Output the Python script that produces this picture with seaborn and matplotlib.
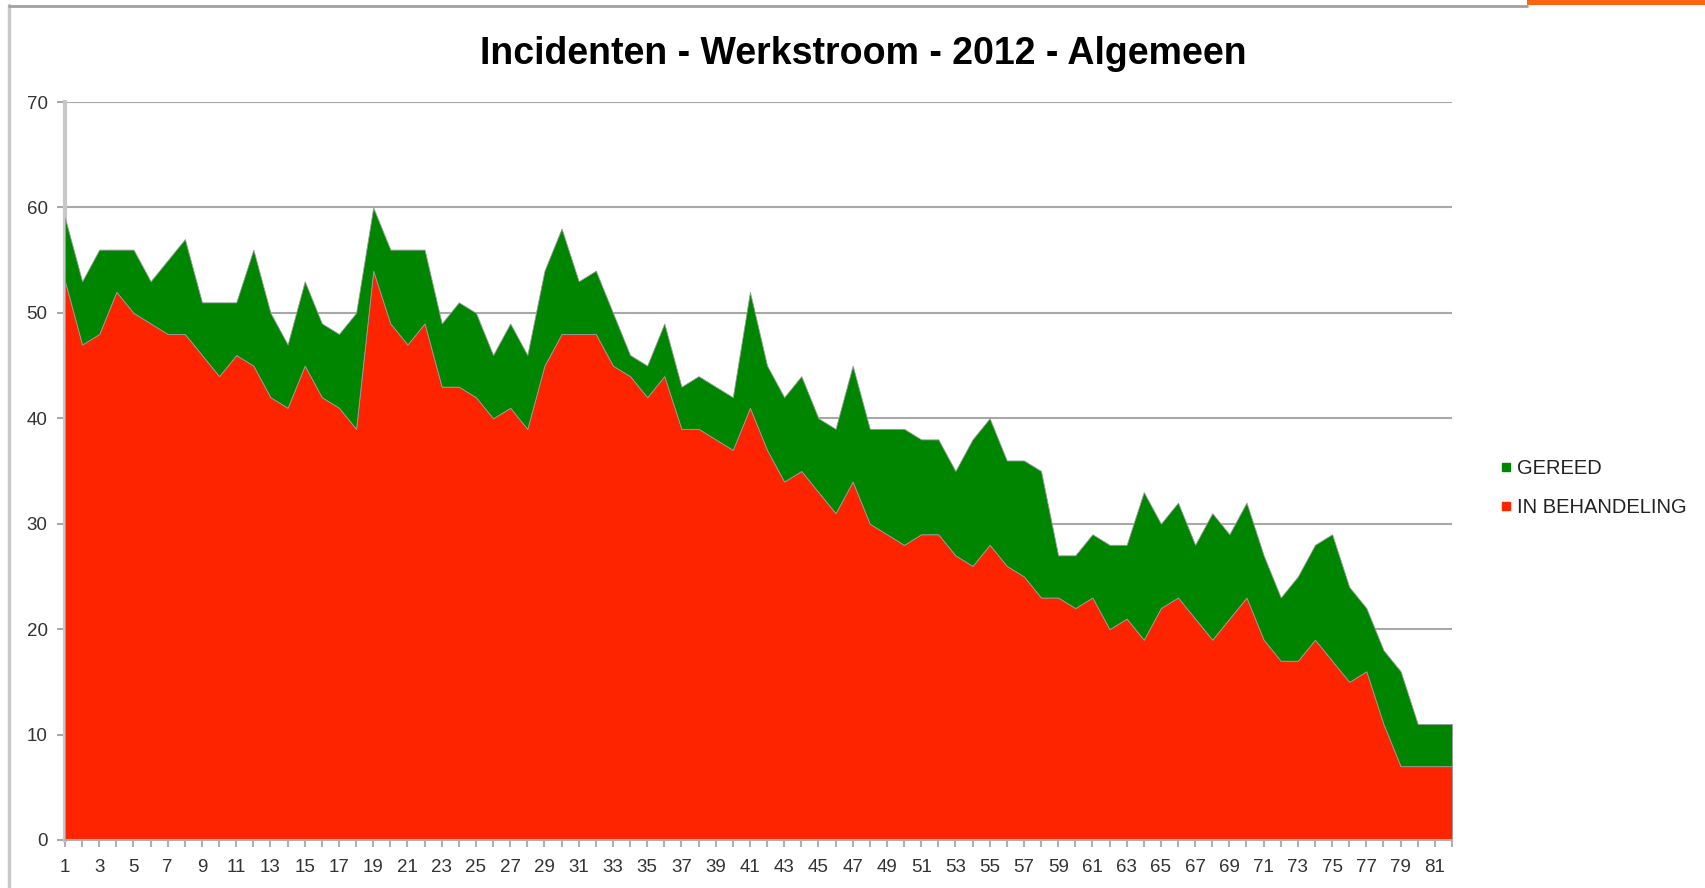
import numpy as np
import pandas as pd
import matplotlib.pyplot as plt
import seaborn as sns
from matplotlib.lines import Line2D
from matplotlib.patches import Rectangle

# data
days = list(range(1, 83))
totaal = [59, 53, 56, 56, 56, 53, 55, 57, 51, 51,
          51, 56, 50, 47, 53, 49, 48, 50, 60, 56,
          56, 56, 49, 51, 50, 46, 49, 46, 54, 58,
          53, 54, 50, 46, 45, 49, 43, 44, 43, 42,
          52, 45, 42, 44, 40, 39, 45, 39, 39, 39,
          38, 38, 35, 38, 40, 36, 36, 35, 27, 27,
          29, 28, 28, 33, 30, 32, 28, 31, 29, 32,
          27, 23, 25, 28, 29, 24, 22, 18, 16, 11,
          11, 11]
in_behandeling = [53, 47, 48, 52, 50, 49, 48, 48, 46, 44,
                  46, 45, 42, 41, 45, 42, 41, 39, 54, 49,
                  47, 49, 43, 43, 42, 40, 41, 39, 45, 48,
                  48, 48, 45, 44, 42, 44, 39, 39, 38, 37,
                  41, 37, 34, 35, 33, 31, 34, 30, 29, 28,
                  29, 29, 27, 26, 28, 26, 25, 23, 23, 22,
                  23, 20, 21, 19, 22, 23, 21, 19, 21, 23,
                  19, 17, 17, 19, 17, 15, 16, 11, 7, 7,
                  7, 7]
gereed = [t - r for t, r in zip(totaal, in_behandeling)]

colors = ['#ff2400', '#008500']

df = pd.DataFrame({'dag': days, 'IN BEHANDELING': in_behandeling, 'GEREED': gereed})

sns.set_theme(style='white')
plt.rcParams['font.family'] = ['Liberation Sans', 'DejaVu Sans']

fig = plt.figure(figsize=(17.06, 8.88), dpi=100)
ax = fig.add_axes([0.0381, 0.0541, 0.8130, 0.8310])

ax.stackplot(df['dag'], df['IN BEHANDELING'], df['GEREED'], colors=colors,
             linewidth=0.6, edgecolor='#9a9a9a', zorder=3)

ax.set_xlim(1, 82)
ax.set_ylim(0, 70)
ax.set_yticks(range(0, 71, 10))
ax.set_xticks(days, minor=True)
ax.set_xticks(days[::2])
ax.set_xticklabels([str(d) for d in days[::2]])
ax.grid(axis='y', color='#a8a8a8', linewidth=1.5, zorder=1)
ax.set_axisbelow(True)

for side in ['top', 'right']:
    ax.spines[side].set_visible(False)
ax.spines['left'].set_color('#c8c8c8')
ax.spines['left'].set_linewidth(3)
ax.spines['bottom'].set_color('#b0b0b0')
ax.spines['bottom'].set_linewidth(1.5)
ax.spines['bottom'].set_zorder(4)

ax.tick_params(axis='y', which='major', left=True, length=6, width=1.5, color='#a8a8a8',
               labelsize=13.5, labelcolor='#333333', pad=6.5)
ax.tick_params(axis='x', which='both', bottom=True, length=5, width=1.5, color='#b0b0b0',
               labelsize=13.5, labelcolor='#333333', pad=9)
ax.set_xlabel('')
ax.set_ylabel('')

fig.text(0.506, 0.939, 'Incidenten - Werkstroom - 2012 - Algemeen', ha='center', va='center',
         fontsize=27, fontweight='bold', color='black')

handles = [Line2D([], [], marker='s', linestyle='', color=colors[1], markersize=6),
           Line2D([], [], marker='s', linestyle='', color=colors[0], markersize=6)]
fig.legend(handles, ['GEREED', 'IN BEHANDELING'], loc='upper left',
           bbox_to_anchor=(0.8665, 0.503), frameon=False, fontsize=14.5,
           handletextpad=0.0, handlelength=1.0, labelspacing=0.95, labelcolor='#222222')

# page frame of the original screenshot
fig.add_artist(Line2D([0.0053, 0.0053], [0.0, 0.994], transform=fig.transFigure,
                      color='#c8c8c8', linewidth=2.5))
fig.add_artist(Line2D([0.0053, 0.895], [0.9935, 0.9935], transform=fig.transFigure,
                      color='#a0a0a0', linewidth=2))
fig.add_artist(Rectangle((0.895, 0.9943), 0.105, 0.0057, transform=fig.transFigure,
                         color='#ff6510', linewidth=0))

fig.savefig('out.png', dpi=100)
